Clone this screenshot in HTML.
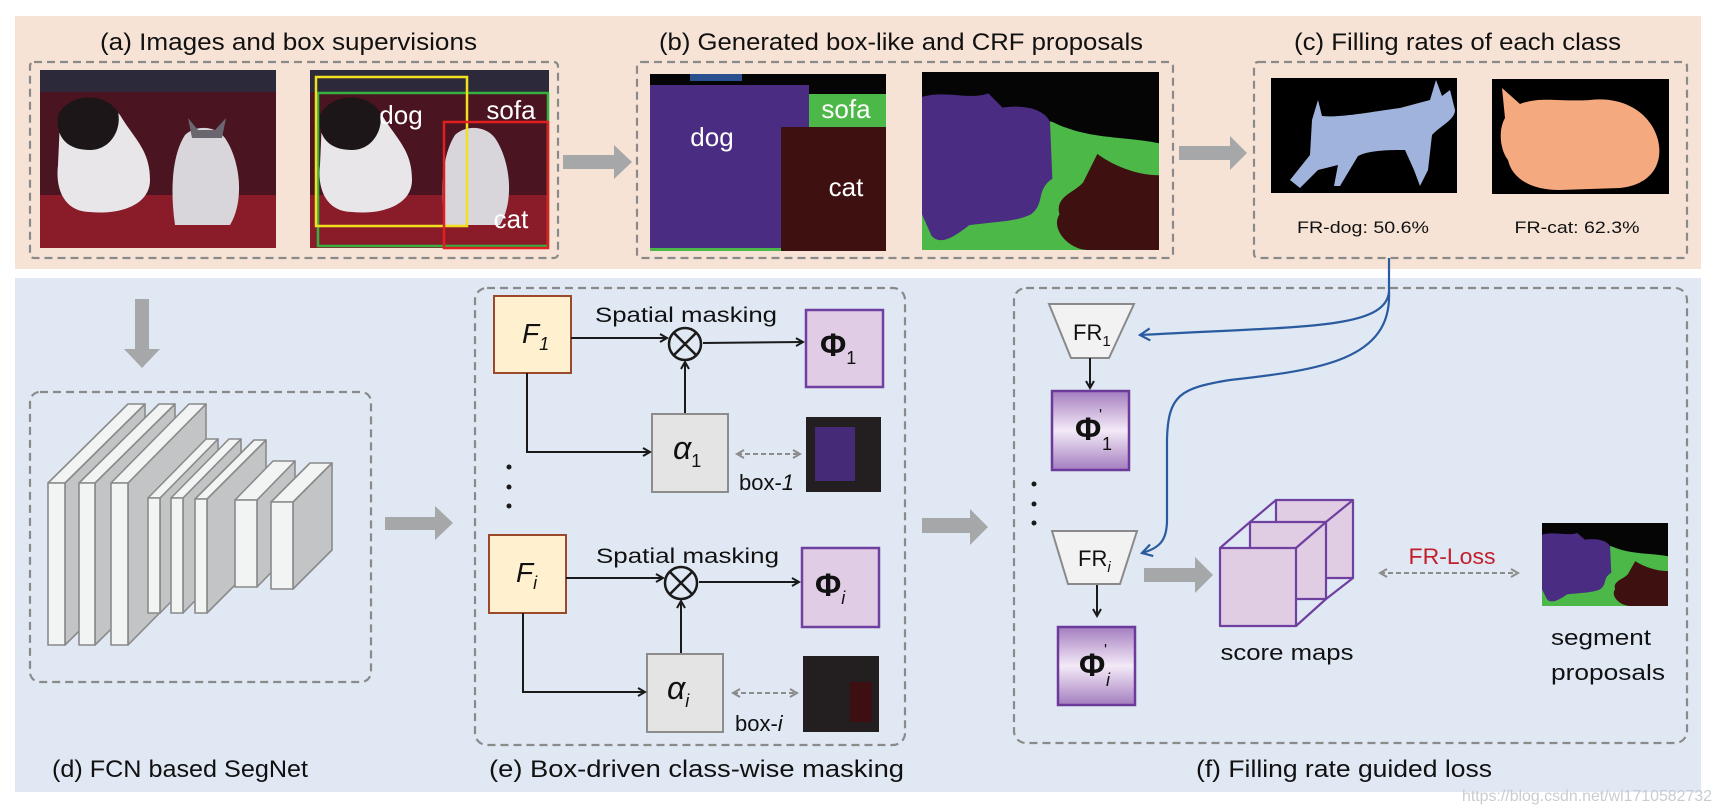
<!DOCTYPE html>
<html><head><meta charset="utf-8"><style>
html,body{margin:0;padding:0;background:#fff;}
svg{display:block;}
text{font-family:"Liberation Sans",sans-serif;fill:#111;}
.t{font-size:24px;}
.s{font-size:21px;}
</style></head><body>
<svg width="1720" height="810" viewBox="0 0 1720 810" xmlns="http://www.w3.org/2000/svg">
<defs>
<symbol id="crf" viewBox="0 0 100 100" preserveAspectRatio="none">
<rect x="0" y="0" width="100" height="100" fill="#4cb848"/>
<path d="M0 0 H100 V40 C85 36 70 38 55 28 C40 24 30 30 0 28 Z" fill="#050505"/>
<path d="M0 14 C10 10 20 16 28 12 L34 20 C45 18 52 22 54 28 L55 60 C48 66 52 74 46 80 C40 84 32 84 20 86 C14 92 8 98 4 92 L0 80 Z" fill="#4a2c82"/>
<path d="M100 58 C90 58 80 52 74 46 L68 62 C64 68 56 70 58 80 C54 88 62 100 70 100 H100 Z" fill="#3e1010"/>
</symbol>
<linearGradient id="pg" x1="0" y1="0" x2="0" y2="1">
<stop offset="0" stop-color="#a47dbf"/><stop offset="0.5" stop-color="#f3eaf7"/><stop offset="1" stop-color="#a47dbf"/>
</linearGradient>
<marker id="ab" markerWidth="10" markerHeight="10" refX="8" refY="5" orient="auto" markerUnits="userSpaceOnUse"><path d="M1 1 L8 5 L1 9" fill="none" stroke="#1a1a1a" stroke-width="2"/></marker>
<marker id="ag" markerWidth="10" markerHeight="10" refX="8" refY="5" orient="auto-start-reverse" markerUnits="userSpaceOnUse"><path d="M1 1 L8 5 L1 9" fill="none" stroke="#8c8c8c" stroke-width="2"/></marker>
<marker id="abl" markerWidth="14" markerHeight="14" refX="11" refY="7" orient="auto" markerUnits="userSpaceOnUse"><path d="M1 1 L11 7 L1 13" fill="none" stroke="#2a5aa0" stroke-width="2.2"/></marker>
</defs>

<!-- panels -->
<rect x="15" y="16" width="1686" height="253" fill="#f7e3d6"/>
<rect x="15" y="278" width="1686" height="514" fill="#dfe8f3"/>

<!-- titles -->
<text class="t" x="100" y="50" textLength="377" lengthAdjust="spacingAndGlyphs">(a) Images and box supervisions</text>
<text class="t" x="659" y="50" textLength="484" lengthAdjust="spacingAndGlyphs">(b) Generated box-like and CRF proposals</text>
<text class="t" x="1294" y="50" textLength="327" lengthAdjust="spacingAndGlyphs">(c) Filling rates of each class</text>

<g fill="none" stroke="#8a8a8a" stroke-width="2.2" stroke-dasharray="8,5">
<rect x="30" y="62" width="528" height="196" rx="4"/>
<rect x="637" y="62" width="536" height="196" rx="4"/>
<rect x="1254" y="62" width="433" height="196" rx="4"/>
<rect x="30" y="392" width="341" height="290" rx="10"/>
<rect x="475" y="288" width="430" height="457" rx="12"/>
<rect x="1014" y="288" width="673" height="455" rx="12"/>
</g>

<!-- image a1 -->
<g>
<rect x="40" y="70" width="236" height="178" fill="#4a1420"/>
<rect x="40" y="70" width="236" height="22" fill="#2c2a3a"/>
<rect x="40" y="195" width="236" height="53" fill="#8a1c2a"/>
<path d="M60 120 C75 95 105 95 120 115 C135 140 150 150 150 180 C150 205 120 215 90 212 C65 212 55 190 58 165 Z" fill="#e8e6e8"/>
<path d="M58 115 C70 92 105 92 118 112 C122 130 110 150 90 150 C70 150 55 140 58 115 Z" fill="#1c1618"/>
<path d="M185 135 C195 125 215 125 225 138 C240 160 245 200 230 225 L175 225 C170 190 172 155 185 135 Z" fill="#d8d6da"/>
<path d="M188 118 L192 138 L222 138 L226 118 L215 130 L198 130 Z" fill="#6a6670"/>
</g>
<!-- image a2 -->
<g>
<rect x="310" y="70" width="239" height="178" fill="#4a1420"/>
<rect x="310" y="70" width="239" height="22" fill="#2c2a3a"/>
<rect x="310" y="195" width="239" height="53" fill="#8a1c2a"/>
<path d="M322 120 C337 95 367 95 382 115 C397 140 412 150 412 180 C412 205 382 215 352 212 C327 212 317 190 320 165 Z" fill="#e8e6e8"/>
<path d="M320 115 C332 92 367 92 380 112 C384 130 372 150 352 150 C332 150 317 140 320 115 Z" fill="#1c1618"/>
<path d="M455 135 C465 125 485 125 495 138 C510 160 515 200 500 225 L445 225 C440 190 442 155 455 135 Z" fill="#d8d6da"/>
<rect x="318" y="93" width="230" height="153" fill="none" stroke="#36b040" stroke-width="2.5"/>
<rect x="316" y="77" width="151" height="149" fill="none" stroke="#f2e020" stroke-width="2.5"/>
<rect x="444" y="122" width="104" height="126" fill="none" stroke="#e02020" stroke-width="2.5"/>
<text x="401" y="124" text-anchor="middle" font-size="26" style="fill:#fff">dog</text>
<text x="511" y="119" text-anchor="middle" font-size="26" style="fill:#fff">sofa</text>
<text x="511" y="228" text-anchor="middle" font-size="26" style="fill:#fff">cat</text>
</g>

<!-- big gray arrows -->
<g fill="#a6a7a9">
<path d="M563 155 H614 V145 L632 162 L614 179 V169 H563 Z"/>
<path d="M1179 146 H1230 V136 L1247 153 L1230 170 V160 H1179 Z"/>
<path d="M135 299 H149 V349 H160 L142 368 L124 349 H135 Z"/>
<path d="M385 517 H435 V506 L453 523 L435 540 V530 H385 Z"/>
<path d="M922 518 H970 V509 L988 527 L970 545 V533 H922 Z"/>
<path d="M1144 568 H1195 V557 L1213 575 L1195 593 V582 H1144 Z"/>
</g>

<!-- image b1 -->
<g>
<rect x="650" y="74" width="236" height="177" fill="#050505"/>
<rect x="690" y="74" width="52" height="7" fill="#2a5090"/>
<rect x="650" y="85" width="159" height="166" fill="#4a2c82"/>
<rect x="809" y="94" width="77" height="33" fill="#4cb848"/>
<rect x="650" y="248" width="131" height="3" fill="#4cb848"/>
<rect x="781" y="127" width="105" height="124" fill="#3e1010"/>
<text x="712" y="146" text-anchor="middle" font-size="26" style="fill:#fff">dog</text>
<text x="846" y="118" text-anchor="middle" font-size="26" style="fill:#fff">sofa</text>
<text x="846" y="196" text-anchor="middle" font-size="26" style="fill:#fff">cat</text>
</g>
<use href="#crf" x="922" y="72" width="237" height="178"/>

<!-- filling images -->
<rect x="1271" y="78" width="186" height="115" fill="#000"/>
<path d="M1312 120 L1318 100 L1322 116 C1340 118 1370 112 1400 108 L1430 100 L1436 80 L1442 96 L1450 90 L1455 110 C1455 120 1440 126 1432 135 L1428 170 L1420 186 L1414 170 L1405 150 C1390 150 1370 150 1358 156 L1340 186 L1334 186 L1338 165 L1318 170 L1300 188 L1290 180 L1310 155 Z" fill="#a0b3dc"/>
<rect x="1492" y="79" width="177" height="115" fill="#000"/>
<path d="M1502 88 L1520 104 C1540 96 1560 102 1590 100 C1620 96 1650 110 1658 140 C1664 165 1650 185 1620 188 L1560 190 C1530 190 1512 178 1508 160 C1500 150 1498 130 1505 118 Z" fill="#f4a97e"/>
<text x="1363" y="233" text-anchor="middle" font-size="17" textLength="132" lengthAdjust="spacingAndGlyphs">FR-dog: 50.6%</text>
<text x="1577" y="233" text-anchor="middle" font-size="17" textLength="125" lengthAdjust="spacingAndGlyphs">FR-cat: 62.3%</text>

<!-- (d) layers -->
<g stroke="#8a8a8a" stroke-width="1.6" stroke-linejoin="round">
<g id="L1"><polygon points="65,483 145,404 145,566 65,645" fill="#c3c4c6"/><polygon points="48,483 128,404 145,404 65,483" fill="#f2f3f3"/><rect x="48" y="483" width="17" height="162" fill="#f2f3f3"/></g>
<g><polygon points="95,483 175,404 175,566 95,645" fill="#c3c4c6"/><polygon points="79,483 159,404 175,404 95,483" fill="#f2f3f3"/><rect x="79" y="483" width="16" height="162" fill="#f2f3f3"/></g>
<g><polygon points="128,483 206,404 206,566 128,645" fill="#c3c4c6"/><polygon points="111,483 189,404 206,404 128,483" fill="#f2f3f3"/><rect x="111" y="483" width="17" height="162" fill="#f2f3f3"/></g>
<g><polygon points="160,498 218,439 218,554 160,613" fill="#c3c4c6"/><polygon points="148,498 206,439 218,439 160,498" fill="#f2f3f3"/><rect x="148" y="498" width="12" height="115" fill="#f2f3f3"/></g>
<g><polygon points="183,498 241,439 241,554 183,613" fill="#c3c4c6"/><polygon points="171,498 229,439 241,439 183,498" fill="#f2f3f3"/><rect x="171" y="498" width="12" height="115" fill="#f2f3f3"/></g>
<g><polygon points="207,499 266,440 266,554 207,613" fill="#c3c4c6"/><polygon points="195,499 254,440 266,440 207,499" fill="#f2f3f3"/><rect x="195" y="499" width="12" height="114" fill="#f2f3f3"/></g>
<g><polygon points="257,500 295,461 295,548 257,587" fill="#c3c4c6"/><polygon points="235,500 273,461 295,461 257,500" fill="#f2f3f3"/><rect x="235" y="500" width="22" height="87" fill="#f2f3f3"/></g>
<g><polygon points="293,502 332,463 332,550 293,589" fill="#c3c4c6"/><polygon points="271,502 310,463 332,463 293,502" fill="#f2f3f3"/><rect x="271" y="502" width="22" height="87" fill="#f2f3f3"/></g>
</g>

<!-- (e) -->
<g font-family="Liberation Sans">
<rect x="494" y="296" width="77" height="77" fill="#fff1cf" stroke="#9a4a2a" stroke-width="2"/>
<text x="522" y="343" font-size="28" font-style="italic">F<tspan font-size="18" dy="7">1</tspan></text>
<text class="s" x="595" y="322" textLength="182" lengthAdjust="spacingAndGlyphs">Spatial masking</text>
<circle cx="685" cy="344" r="16" fill="none" stroke="#1a1a1a" stroke-width="2.5"/>
<path d="M674 333 L696 355 M696 333 L674 355" stroke="#1a1a1a" stroke-width="2.5"/>
<line x1="571" y1="338" x2="667" y2="338" stroke="#1a1a1a" stroke-width="2" marker-end="url(#ab)"/>
<line x1="703" y1="343" x2="803" y2="342" stroke="#1a1a1a" stroke-width="2" marker-end="url(#ab)"/>
<rect x="806" y="310" width="77" height="77" fill="#e0cde5" stroke="#7040a0" stroke-width="2.5"/>
<text x="820" y="356" font-family="Liberation Serif" font-weight="bold" font-size="32">Φ<tspan font-size="18" font-weight="normal" dy="8">1</tspan></text>
<line x1="685" y1="414" x2="685" y2="362" stroke="#1a1a1a" stroke-width="2" marker-end="url(#ab)"/>
<rect x="652" y="414" width="76" height="78" fill="#e4e4e4" stroke="#8c8c8c" stroke-width="2"/>
<text x="673" y="459" font-family="Liberation Serif" font-style="italic" font-size="32">α<tspan font-size="18" font-style="normal" dy="8">1</tspan></text>
<polyline points="527,373 527,452 650,452" fill="none" stroke="#1a1a1a" stroke-width="2" marker-end="url(#ab)"/>
<line x1="737" y1="454" x2="800" y2="454" stroke="#8c8c8c" stroke-width="2" stroke-dasharray="5,3" marker-start="url(#ag)" marker-end="url(#ag)"/>
<text x="739" y="490" font-size="22">box-<tspan font-style="italic">1</tspan></text>
<rect x="806" y="417" width="75" height="75" fill="#231f20"/>
<rect x="815" y="427" width="40" height="54" fill="#452a78"/>
<circle cx="509" cy="467" r="2.5" fill="#1a1a1a"/><circle cx="509" cy="487" r="2.5" fill="#1a1a1a"/><circle cx="509" cy="506" r="2.5" fill="#1a1a1a"/>

<rect x="489" y="535" width="77" height="78" fill="#fff1cf" stroke="#9a4a2a" stroke-width="2"/>
<text x="516" y="582" font-size="28" font-style="italic">F<tspan font-size="18" dy="7">i</tspan></text>
<text class="s" x="596" y="563" textLength="183" lengthAdjust="spacingAndGlyphs">Spatial masking</text>
<circle cx="681" cy="583" r="16" fill="none" stroke="#1a1a1a" stroke-width="2.5"/>
<path d="M670 572 L692 594 M692 572 L670 594" stroke="#1a1a1a" stroke-width="2.5"/>
<line x1="566" y1="578" x2="663" y2="578" stroke="#1a1a1a" stroke-width="2" marker-end="url(#ab)"/>
<line x1="699" y1="582" x2="799" y2="582" stroke="#1a1a1a" stroke-width="2" marker-end="url(#ab)"/>
<rect x="802" y="548" width="77" height="79" fill="#e0cde5" stroke="#7040a0" stroke-width="2.5"/>
<text x="815" y="596" font-family="Liberation Serif" font-weight="bold" font-size="32">Φ<tspan font-size="18" font-weight="normal" font-style="italic" dy="8">i</tspan></text>
<line x1="681" y1="654" x2="681" y2="601" stroke="#1a1a1a" stroke-width="2" marker-end="url(#ab)"/>
<rect x="647" y="654" width="76" height="78" fill="#e4e4e4" stroke="#8c8c8c" stroke-width="2"/>
<text x="667" y="699" font-family="Liberation Serif" font-style="italic" font-size="32">α<tspan font-size="18" dy="8">i</tspan></text>
<polyline points="523,613 523,692 645,692" fill="none" stroke="#1a1a1a" stroke-width="2" marker-end="url(#ab)"/>
<line x1="733" y1="693" x2="797" y2="693" stroke="#8c8c8c" stroke-width="2" stroke-dasharray="5,3" marker-start="url(#ag)" marker-end="url(#ag)"/>
<text x="735" y="731" font-size="22">box-<tspan font-style="italic">i</tspan></text>
<rect x="803" y="656" width="76" height="76" fill="#231f20"/>
<rect x="850" y="682" width="22" height="40" fill="#3d0f12"/>
</g>

<!-- (f) -->
<polygon points="1049,304 1134,304 1109,358 1071,358" fill="#f2f2f2" stroke="#8a8a8a" stroke-width="2"/>
<text x="1073" y="340" font-size="22">FR<tspan font-size="15" dy="6">1</tspan></text>
<line x1="1090" y1="358" x2="1090" y2="388" stroke="#1a1a1a" stroke-width="2" marker-end="url(#ab)"/>
<rect x="1052" y="391" width="77" height="79" fill="url(#pg)" stroke="#6d3a9c" stroke-width="2.5"/>
<text x="1075" y="440" font-family="Liberation Serif" font-weight="bold" font-size="32">Φ</text>
<text x="1099" y="420" font-family="Liberation Serif" font-size="16">'</text>
<text x="1102" y="450" font-family="Liberation Serif" font-size="18">1</text>
<circle cx="1034" cy="484" r="2.5" fill="#1a1a1a"/><circle cx="1034" cy="504" r="2.5" fill="#1a1a1a"/><circle cx="1034" cy="523" r="2.5" fill="#1a1a1a"/>
<polygon points="1052,531 1137,531 1120,584 1068,584" fill="#f2f2f2" stroke="#8a8a8a" stroke-width="2"/>
<text x="1078" y="566" font-size="22">FR<tspan font-size="15" font-style="italic" dy="6">i</tspan></text>
<line x1="1097" y1="585" x2="1097" y2="616" stroke="#1a1a1a" stroke-width="2" marker-end="url(#ab)"/>
<rect x="1058" y="627" width="77" height="78" fill="url(#pg)" stroke="#6d3a9c" stroke-width="2.5"/>
<text x="1079" y="676" font-family="Liberation Serif" font-weight="bold" font-size="32">Φ</text>
<text x="1104" y="655" font-family="Liberation Serif" font-size="16">'</text>
<text x="1106" y="686" font-family="Liberation Serif" font-style="italic" font-size="18">i</text>

<!-- cube -->
<g stroke="#7040a0" stroke-width="2.2" fill="#e0cde4" stroke-linejoin="round">
<rect x="1276" y="500" width="77" height="78"/>
<line x1="1250" y1="522" x2="1276" y2="500"/><line x1="1326" y1="522" x2="1353" y2="500"/><line x1="1326" y1="599" x2="1353" y2="578"/>
<rect x="1250" y="522" width="76" height="77"/>
<line x1="1220" y1="548" x2="1250" y2="522"/><line x1="1296" y1="548" x2="1326" y2="522"/><line x1="1296" y1="626" x2="1326" y2="599"/>
<rect x="1220" y="548" width="76" height="78"/>
</g>
<text x="1287" y="660" text-anchor="middle" font-size="22" textLength="133" lengthAdjust="spacingAndGlyphs">score maps</text>
<text x="1452" y="564" text-anchor="middle" font-size="22" style="fill:#c41e2a" textLength="87" lengthAdjust="spacingAndGlyphs">FR-Loss</text>
<line x1="1380" y1="573" x2="1518" y2="573" stroke="#8c8c8c" stroke-width="2" stroke-dasharray="5,3" marker-start="url(#ag)" marker-end="url(#ag)"/>
<use href="#crf" x="1542" y="523" width="126" height="83"/>
<text x="1551" y="645" font-size="22" textLength="100" lengthAdjust="spacingAndGlyphs">segment</text>
<text x="1551" y="680" font-size="22" textLength="114" lengthAdjust="spacingAndGlyphs">proposals</text>

<!-- blue curves -->
<g fill="none" stroke="#2a5aa0" stroke-width="2.2">
<path d="M1389 258 L1389 292 C1385 330 1300 326 1140 335" marker-end="url(#abl)"/>
<path d="M1389 292 C1392 360 1320 370 1230 380 C1180 388 1168 395 1167 440 L1167 520 C1167 540 1160 548 1142 553" marker-end="url(#abl)"/>
</g>

<!-- bottom labels -->
<text class="t" x="52" y="777" textLength="256" lengthAdjust="spacingAndGlyphs">(d) FCN based SegNet</text>
<text class="t" x="489" y="777" textLength="415" lengthAdjust="spacingAndGlyphs">(e) Box-driven class-wise masking</text>
<text class="t" x="1196" y="777" textLength="296" lengthAdjust="spacingAndGlyphs">(f) Filling rate guided loss</text>
<text x="1462" y="801" font-size="16" style="fill:#c8ccd2" textLength="250" lengthAdjust="spacingAndGlyphs">https://blog.csdn.net/wl1710582732</text>
</svg>
</body></html>
